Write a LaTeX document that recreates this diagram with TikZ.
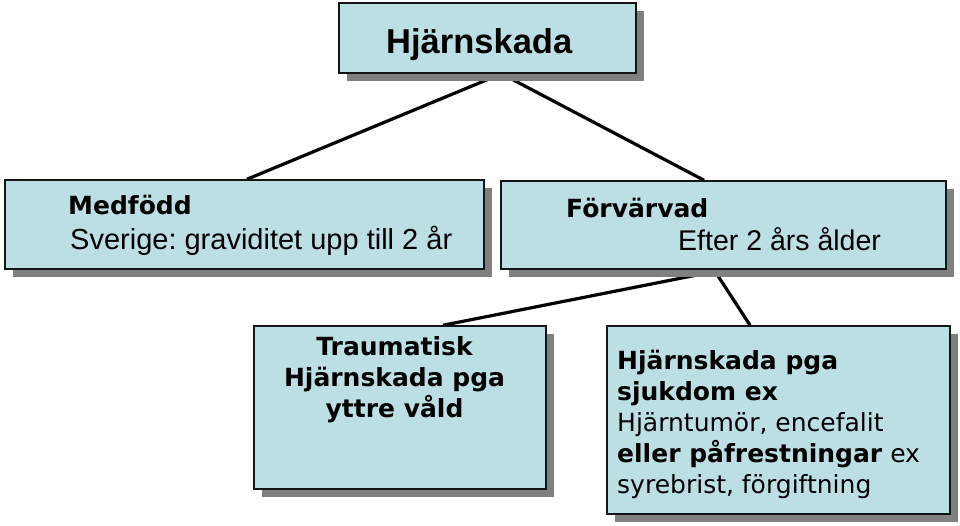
\documentclass[tikz,border=0pt]{standalone}
\usepackage{fontspec}
\setmainfont{Liberation Sans}
\newfontfamily\verd{DejaVu Sans}
\usetikzlibrary{shadows,backgrounds}
\definecolor{boxfill}{RGB}{188,223,228}
\definecolor{shadowgray}{RGB}{128,128,128}
\definecolor{boxline}{RGB}{20,20,20}
\frenchspacing

\begin{document}
\begin{tikzpicture}[x=1pt,y=-1pt,
  cbox/.style={draw=boxline,line width=1.5pt,fill=boxfill,rectangle,inner sep=0pt,
    drop shadow={shadow xshift=8pt,shadow yshift=-8pt,fill=shadowgray,opacity=1}},
  atext/.style={inner sep=0pt,anchor=base west},
  vtext/.style={inner sep=0pt,font=\verd\fontsize{25}{31}\selectfont}]

  \useasboundingbox (0,0) rectangle (960,526);

  \node[cbox,minimum width=297pt,minimum height=70pt] (top) at (487.5,38) {};
  \node[cbox,minimum width=479pt,minimum height=89pt] (med) at (244.5,224.5) {};
  \node[cbox,minimum width=445pt,minimum height=88pt] (forv) at (723.5,225) {};
  \node[cbox,minimum width=292pt,minimum height=163pt] (traum) at (400,407.5) {};
  \node[cbox,minimum width=343pt,minimum height=188pt] (sjuk) at (778.5,420) {};

  \node[atext,font=\bfseries\fontsize{34.5}{40}\selectfont] (toptext) at (386,54) {Hjärnskada};
  \node[vtext,anchor=base west] (medtext) at (68,215) {\textbf{Medfödd}};
  \node[atext,font=\fontsize{29}{34}\selectfont] (medsub) at (70,250) {Sverige: graviditet upp till 2 år};
  \node[vtext,anchor=base west] (forvtext) at (566,218) {\textbf{Förvärvad}};
  \node[atext,font=\fontsize{28.5}{34}\selectfont] (forvsub) at (678,251) {Efter 2 års ålder};
  \node[vtext,font=\verd\bfseries\fontsize{25}{31}\selectfont,anchor=north,align=center]
    (traumtext) at (394.5,336) {Traumatisk\\Hjärnskada pga\\yttre våld};
  \node[vtext,anchor=north west,align=left] (sjuktext) at (617,350)
    {\textbf{Hjärnskada pga}\\\textbf{sjukdom ex}\\Hjärntumör, encefalit\\\textbf{eller påfrestningar} ex\\syrebrist, förgiftning};

  % connectors, under the boxes
  \begin{scope}[on background layer]
    \draw[line width=3.2pt] ([xshift=14pt]top.south) -- ([xshift=2.5pt]med.north);
    \draw[line width=3.2pt] ([xshift=14pt]top.south) -- ([xshift=-19.5pt]forv.north);
    \draw[line width=3.2pt] (forv.south) -- ([xshift=43pt]traum.north);
    \draw[line width=3.2pt] ([xshift=-9.5pt]forv.south) -- ([xshift=-28.5pt]sjuk.north);
  \end{scope}

\end{tikzpicture}
\end{document}
